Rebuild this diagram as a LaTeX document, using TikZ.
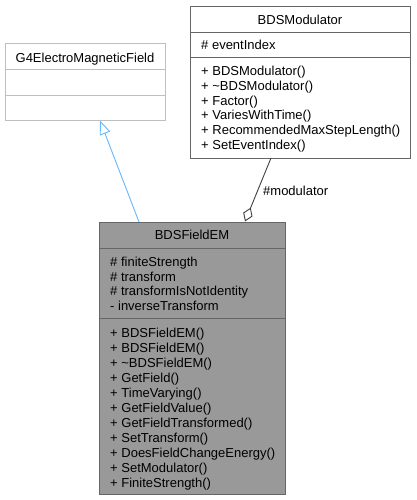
\documentclass[tikz,border=0pt]{standalone}
\usepackage{fontspec}
\setmainfont{Liberation Sans}
\usetikzlibrary{arrows.meta}
\definecolor{boxgray}{HTML}{666666}
\definecolor{extgray}{HTML}{BFBFBF}
\definecolor{fillgray}{HTML}{999999}
\definecolor{inhblue}{HTML}{63B8FF}
\definecolor{aggline}{HTML}{404040}
\begin{document}
\begin{tikzpicture}[x=1pt,y=-1pt,
  classbox/.style={draw=boxgray, line width=0.9pt, rectangle, inner sep=0pt, anchor=north west},
  txt/.style={font=\fontsize{13}{15}\selectfont, inner sep=0pt, anchor=base west, text=black},
  ttl/.style={font=\fontsize{13}{15}\selectfont, inner sep=0pt, anchor=base, text=black},
]
\useasboundingbox[fill=white] (0,0) rectangle (416,500);

% G4ElectroMagneticField
\node[classbox, draw=extgray, fill=white, minimum width=160pt, minimum height=77pt] (g4) at (5,43) {};
\draw[extgray, line width=0.9pt] (5,69) -- (165,69) (5,95) -- (165,95);
\node[ttl] (g4t) at (85,62.3) {G4ElectroMagneticField};

% BDSModulator
\node[classbox, fill=white, minimum width=220pt, minimum height=152pt] (mod) at (190,6) {};
\draw[boxgray, line width=0.9pt] (190,32) -- (410,32) (190,57) -- (410,57);
\node[ttl] (modt) at (300,24.5) {BDSModulator};
\node[txt] (moda) at (201,49.5) {\# eventIndex};
\foreach \s [count=\i from 0] in {BDSModulator(),\textasciitilde BDSModulator(),Factor(),VariesWithTime(),RecommendedMaxStepLength(),SetEventIndex()}
  \node[txt] (modm\i) at (201,75.5+14.8*\i) {+ \s};

% BDSFieldEM
\node[classbox, fill=fillgray, minimum width=186pt, minimum height=272pt] (fem) at (99,222) {};
\draw[boxgray, line width=0.9pt] (99,248) -- (285,248) (99,318) -- (285,318);
\node[ttl] (femt) at (192,239.5) {BDSFieldEM};
\foreach \s [count=\i from 0] in {\# finiteStrength,\# transform,\# transformIsNotIdentity,- inverseTransform}
  \node[txt] (fema\i) at (110,266.5+14.7*\i) {\s};
\foreach \s [count=\i from 0] in {BDSFieldEM(),BDSFieldEM(),\textasciitilde BDSFieldEM(),GetField(),TimeVarying(),GetFieldValue(),GetFieldTransformed(),SetTransform(),DoesFieldChangeEnergy(),SetModulator(),FiniteStrength()}
  \node[txt] (femm\i) at (110,337.5+15*\i) {+ \s};

% inheritance
\coordinate (inhs) at (139,222);
\coordinate (inhe) at (100,120.5);
\draw[inhblue, line width=0.9pt, -{Triangle[open, length=14pt, width=11pt, fill=white]}] (inhs) -- (inhe);

% aggregation
\coordinate (aggs) at (271,158);
\coordinate (agge) at (245,221.5);
\draw[aggline, line width=0.9pt, {Diamond[open, length=15pt, width=10pt, fill=white]}-] (agge) -- (aggs);
\node[txt] (aggl) at (263,195.5) {\#modulator};
\end{tikzpicture}
\end{document}
